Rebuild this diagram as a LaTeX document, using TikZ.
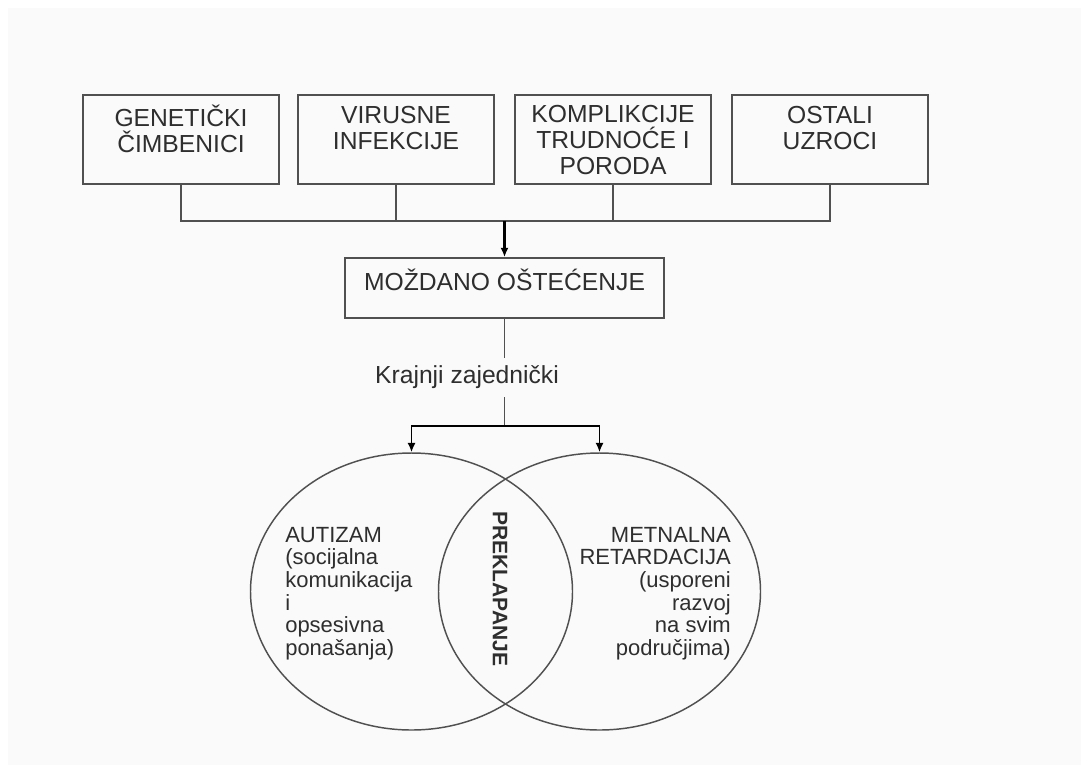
\documentclass[tikz,border=0pt]{standalone}
\usepackage{fontspec}
\setmainfont{Liberation Sans}
\usetikzlibrary{arrows.meta,shapes.geometric}
\definecolor{linegray}{HTML}{505050}
\definecolor{textgray}{HTML}{2E2E2E}
\definecolor{paper}{HTML}{FAFAFA}

\begin{document}
\begin{tikzpicture}[x=0.75pt,y=0.75pt,yscale=-1,xscale=1,
  causebox/.style={draw=linegray,line width=1.3pt,minimum width=147pt,minimum height=66.75pt,inner sep=0pt},
  boxtext/.style={align=center,text=textgray,inner sep=0pt,font=\fontsize{18.5}{19.5}\selectfont},
  link/.style={draw=linegray,line width=1.3pt},
  tip/.style={link,draw=black,-{Latex[length=7pt,width=6pt]}},
  venn/.style={ellipse,draw=linegray,line width=1.1pt,minimum width=241.5pt,minimum height=207.75pt,inner sep=0pt},
  venntext/.style={text=textgray,inner sep=0pt,font=\fontsize{16.5}{17}\selectfont}]

\useasboundingbox (0,0) rectangle (1081,765);
\fill[white] (0,0) rectangle (1081,765);
\fill[paper] (8,8) rectangle (1081,765);

% uzroci
\node[causebox] (gen) at (181,139.5) {};
\node[causebox] (vir) at (396,139.5) {};
\node[causebox] (kom) at (613,139.5) {};
\node[causebox] (ost) at (830,139.5) {};

\node[boxtext] (gentxt) at (181,128.5) {GENETIČKI\\ČIMBENICI};
\node[boxtext] (virtxt) at (396,128.5) {VIRUSNE\\INFEKCIJE};
\node[boxtext] (komtxt) at (613,140.5) {KOMPLIKCIJE\\TRUDNOĆE I\\PORODA};
\node[boxtext] (osttxt) at (830,128.5) {OSTALI\\UZROCI};

% mozdano ostecenje
\node[draw=linegray,line width=1.3pt,minimum width=239.25pt,minimum height=45pt,inner sep=0pt] (mozd) at (504.5,288) {};
\node[boxtext] (mozdtxt) at (504.5,280) {MOŽDANO OŠTEĆENJE};

\coordinate (bus) at (504.5,221);
\draw[link] (gen.south) |- (bus) -| (ost.south);
\draw[link] (vir.south) -- (vir.south |- bus);
\draw[link] (kom.south) -- (kom.south |- bus);
\draw[tip,line width=1.6pt] (bus) -- (mozd.north);

\node[text=textgray,inner sep=0pt,minimum height=29.25pt,font=\fontsize{18.5}{19.5}\selectfont] (kraj) at (467,377.5) {Krajnji zajednički};

% autizam i retardacija
\node[venn] (aut) at (411.5,591.5) {};
\node[venn] (mr) at (599.5,591.5) {};

\coordinate (split) at (504.5,426);
\draw[link] (mozd.south) -- (mozd.south |- kraj.north);
\draw[link] (mozd.south |- kraj.south) -- (split);
\draw[tip] (split) -| (aut.north);
\draw[tip] (split) -| (mr.north);

\node[venntext,anchor=west,align=left] (auttxt) at (285,593.5) {AUTIZAM\\(socijalna\\komunikacija\\i\\opsesivna\\ponašanja)};
\node[venntext,anchor=east,align=right] (mrtxt) at (731,593.5) {METNALNA\\RETARDACIJA\\(usporeni\\razvoj\\na svim\\područjima)};
\node[text=textgray,inner sep=0pt,rotate=-90,font=\bfseries\fontsize{15.75}{17}\selectfont] (prek) at (500,589) {PREKLAPANJE};

\end{tikzpicture}
\end{document}
